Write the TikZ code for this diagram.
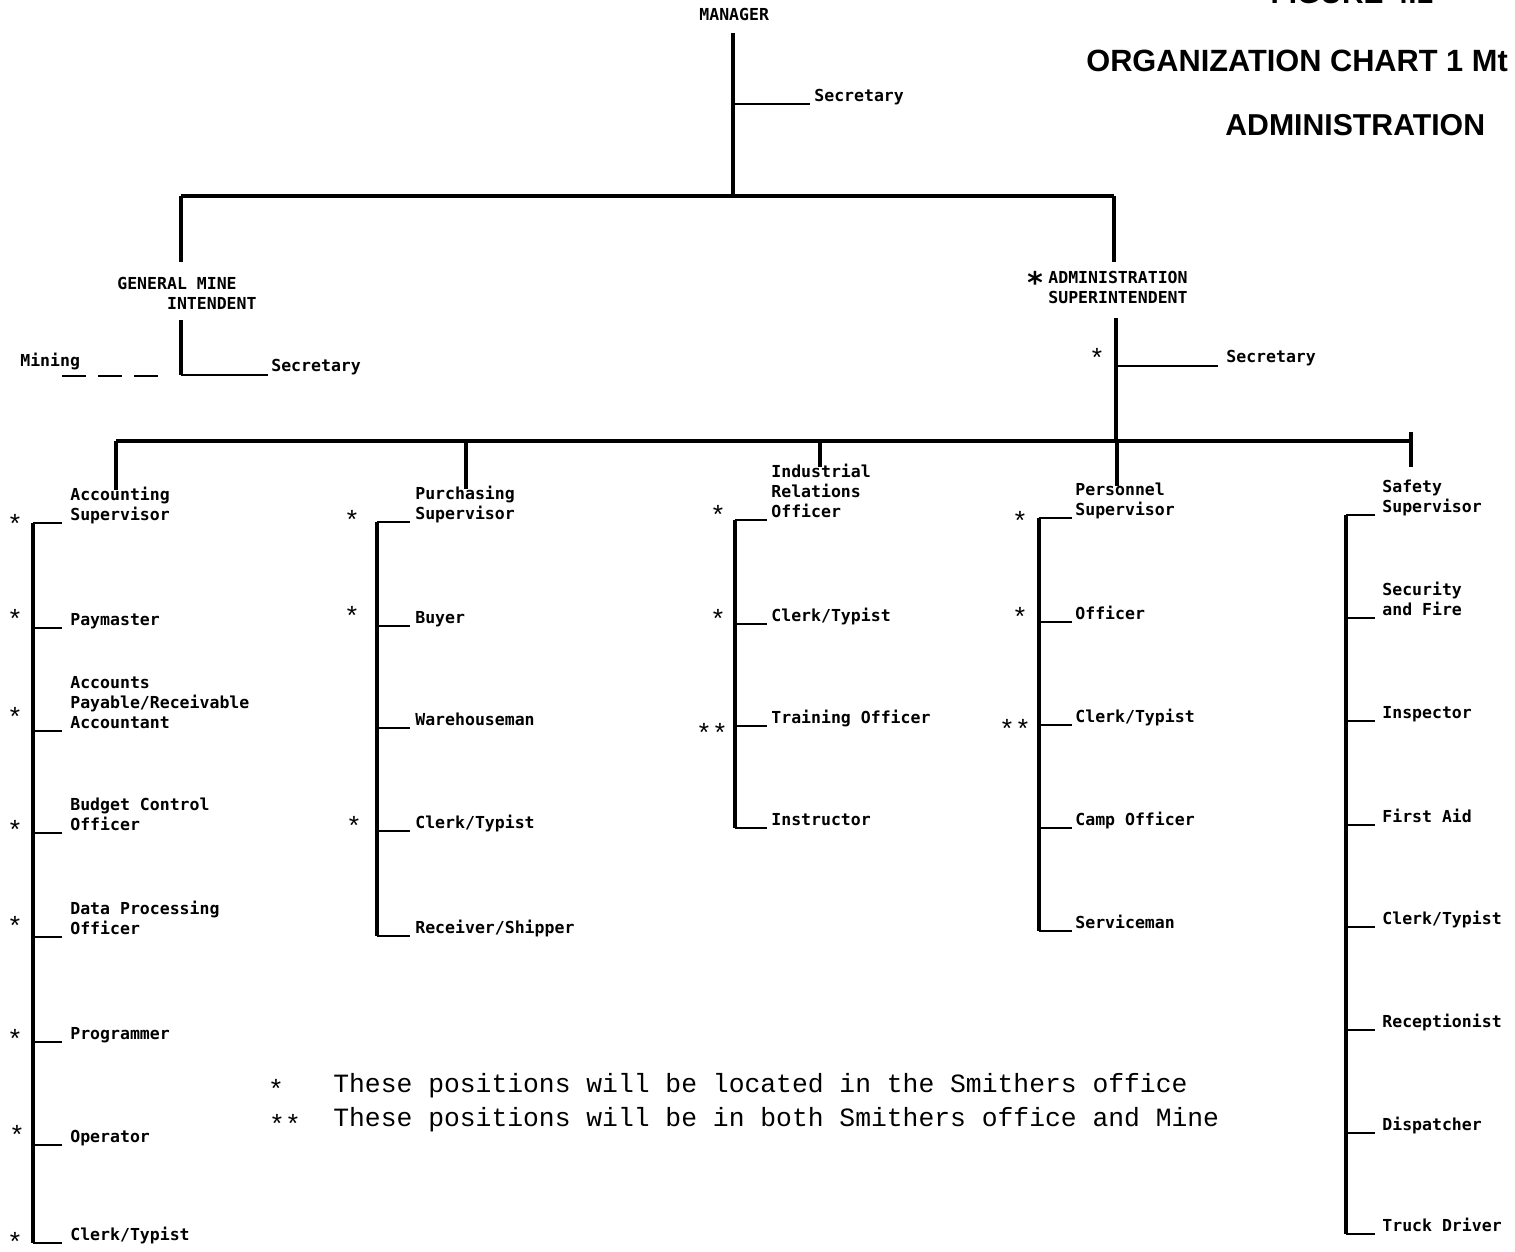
\documentclass[tikz,border=0pt]{standalone}
\usepackage{fontspec}
\newfontfamily\lblfont{DejaVu Sans Mono}
\newfontfamily\legfont{Liberation Mono}
\newfontfamily\ttlfont{Liberation Sans}
\tikzset{
  lbl/.style={font=\lblfont\bfseries\fontsize{9.4}{11.4}\selectfont, inner sep=0pt, align=left, anchor=south west, text depth=0pt},
  starmark/.style={font=\legfont\fontsize{15}{17}\selectfont, inner sep=0pt, anchor=center},
  leg/.style={font=\legfont\fontsize{15}{17}\selectfont, inner sep=0pt, anchor=base west},
  ttl/.style={font=\ttlfont\bfseries\fontsize{17.5}{20}\selectfont, inner sep=0pt, anchor=base west},
  trunk/.style={line width=2pt},
  tickline/.style={line width=1.5pt},
}
% #1 name, #2 trunk x, #3 tick end x, #4 tick y, #5 label x, #6 text
\newcommand\orgrow[6]{%
  \coordinate (#1t) at (#2,#4);
  \coordinate (#1e) at (#3,#4);
  \node[lbl] (#1) at (#5,#4-2) {#6};
  \draw[tickline] (#1t) -- (#1e);
}
% #1 name, #2 x, #3 y, #4 text
\newcommand\orgstar[4]{\node[starmark] (#1) at (#2,#3+4) {#4};}
\begin{document}
\begin{tikzpicture}[x=0.2mm,y=-0.2mm]
\useasboundingbox (0,0) rectangle (1515,1251);

% titles
\node[font=\ttlfont\bfseries\fontsize{17}{18}\selectfont, inner sep=0pt, anchor=base] (fig) at (1352,3) {FIGURE 4.1};
\node[ttl] (t1) at (1086,71) {ORGANIZATION CHART 1 Mt};
\node[ttl, font=\ttlfont\bfseries\fontsize{17.2}{20}\selectfont] (t2) at (1225,135) {ADMINISTRATION};

% manager
\node[lbl] (mgr) at (699,21) {MANAGER};
\coordinate (m1) at (733,33);
\coordinate (m2) at (733,104);
\coordinate (m3) at (733,196);
\coordinate (m2e) at (810,104);
\draw[trunk] (m1) -- (m3);
\draw[tickline] (m2) -- (m2e);
\node[lbl] (sec0) at (814,102) {Secretary};

% top bus
\coordinate (tb1) at (181,196);
\coordinate (tb2) at (1114,196);
\coordinate (gtop) at (181,262);
\coordinate (atop) at (1114,262);
\draw[trunk] (tb1) -- (tb2);
\draw[trunk] (tb1) -- (gtop);
\draw[trunk] (tb2) -- (atop);

% general mine intendent
\node[lbl] (gm) at (117,310) {GENERAL MINE\\\phantom{XXXXX}INTENDENT};
\coordinate (g1) at (181,320);
\coordinate (g2) at (181,375);
\coordinate (g2e) at (268,375);
\draw[trunk] (g1) -- (g2);
\draw[tickline] (g2) -- (g2e);
\node[lbl] (sec1) at (271,372) {Secretary};
\node[lbl] (mining) at (20,367) {Mining};
\coordinate (md1) at (62,376);
\coordinate (md2) at (160,376);
\draw[tickline, dash pattern=on 13.7pt off 6.8pt] (md1) -- (md2);

% administration superintendent
\node[starmark, font=\lblfont\bfseries\fontsize{17}{18}\selectfont] (sa) at (1035,282) {*};
\node[lbl] (adm) at (1048,304) {ADMINISTRATION\\SUPERINTENDENT};
\coordinate (a1) at (1116,318);
\coordinate (a2) at (1116,366);
\coordinate (a2e) at (1218,366);
\coordinate (a3) at (1116,441);
\draw[trunk] (a1) -- (a3);
\draw[tickline] (a2) -- (a2e);
\orgstar{sas}{1097}{354}{*}
\node[lbl] (sec2) at (1226,363) {Secretary};

% department bus
\coordinate (b1) at (116,441);
\coordinate (b2) at (466,441);
\coordinate (b3) at (820,441);
\coordinate (b4) at (1117,441);
\coordinate (b5) at (1411,441);
\coordinate (b5t) at (1411,432);
\draw[trunk] (b1) -- (b5);
\draw[trunk] (b5t) -- (b5);

% column 1: accounting
\orgrow{ra1}{33}{62}{523}{70}{Accounting\\Supervisor}
\orgrow{ra2}{33}{62}{628}{70}{Paymaster}
\orgrow{ra3}{33}{62}{731}{70}{Accounts\\Payable/Receivable\\Accountant}
\orgrow{ra4}{33}{62}{833}{70}{Budget Control\\Officer}
\orgrow{ra5}{33}{62}{937}{70}{Data Processing\\Officer}
\orgrow{ra6}{33}{62}{1042}{70}{Programmer}
\orgrow{ra7}{33}{62}{1145}{70}{Operator}
\orgrow{ra8}{33}{62}{1243}{70}{Clerk/Typist}
\draw[trunk] (ra1t) -- (ra8t);
\draw[trunk] (b1) -- ([yshift=-0.6mm]b1 |- ra1.north);
\orgstar{sa1}{15}{520}{*}
\orgstar{sa2}{15}{615}{*}
\orgstar{sa3}{15}{713}{*}
\orgstar{sa4}{15}{826}{*}
\orgstar{sa5}{15}{922}{*}
\orgstar{sa6}{15}{1035}{*}
\orgstar{sa7}{17}{1131}{*}
\orgstar{sa8}{15}{1238}{*}

% column 2: purchasing
\orgrow{rb1}{377}{410}{522}{415}{Purchasing\\Supervisor}
\orgrow{rb2}{377}{410}{626}{415}{Buyer}
\orgrow{rb3}{377}{410}{728}{415}{Warehouseman}
\orgrow{rb4}{377}{410}{831}{415}{Clerk/Typist}
\orgrow{rb5}{377}{410}{936}{415}{Receiver/Shipper}
\draw[trunk] (rb1t) -- (rb5t);
\draw[trunk] (b2) -- ([yshift=-0.6mm]b2 |- rb1.north);
\orgstar{sb1}{352}{516}{*}
\orgstar{sb2}{352}{612}{*}
\orgstar{sb4}{354}{822}{*}

% column 3: industrial relations
\orgrow{rc1}{735}{767}{520}{771}{Industrial\\Relations\\Officer}
\orgrow{rc2}{735}{767}{624}{771}{Clerk/Typist}
\orgrow{rc3}{735}{767}{726}{771}{Training Officer}
\orgrow{rc4}{735}{767}{828}{771}{Instructor}
\draw[trunk] (rc1t) -- (rc4t);
\draw[trunk] (b3) -- ([yshift=-0.6mm]b3 |- rc1.north);
\orgstar{sc1}{718}{511}{*}
\orgstar{sc2}{718}{615}{*}
\orgstar{sc3}{712}{729}{**}

% column 4: personnel
\orgrow{rd1}{1039}{1072}{518}{1075}{Personnel\\Supervisor}
\orgrow{rd2}{1039}{1072}{622}{1075}{Officer}
\orgrow{rd3}{1039}{1072}{725}{1075}{Clerk/Typist}
\orgrow{rd4}{1039}{1072}{828}{1075}{Camp Officer}
\orgrow{rd5}{1039}{1072}{931}{1075}{Serviceman}
\draw[trunk] (rd1t) -- (rd5t);
\draw[trunk] (b4) -- ([yshift=-0.6mm]b4 |- rd1.north);
\orgstar{sd1}{1020}{517}{*}
\orgstar{sd2}{1020}{613}{*}
\orgstar{sd3}{1015}{725}{**}

% column 5: safety
\orgrow{re1}{1346}{1375}{515}{1382}{Safety\\Supervisor}
\orgrow{re2}{1346}{1375}{618}{1382}{Security\\and Fire}
\orgrow{re3}{1346}{1375}{721}{1382}{Inspector}
\orgrow{re4}{1346}{1375}{825}{1382}{First Aid}
\orgrow{re5}{1346}{1375}{927}{1382}{Clerk/Typist}
\orgrow{re6}{1346}{1375}{1030}{1382}{Receptionist}
\orgrow{re7}{1346}{1375}{1133}{1382}{Dispatcher}
\orgrow{re8}{1346}{1375}{1234}{1382}{Truck Driver}
\draw[trunk] (re1t) -- (re8t);
\coordinate (b5b) at (1411,467);
\draw[trunk] (b5) -- (b5b);

% legend
\orgstar{sl1}{276}{1085}{*}
\orgstar{sl2}{285}{1120}{**}
\node[leg] (leg1) at (333,1092) {These positions will be located in the Smithers office};
\node[leg] (leg2) at (333,1126) {These positions will be in both Smithers office and Mine};
\end{tikzpicture}
\end{document}
